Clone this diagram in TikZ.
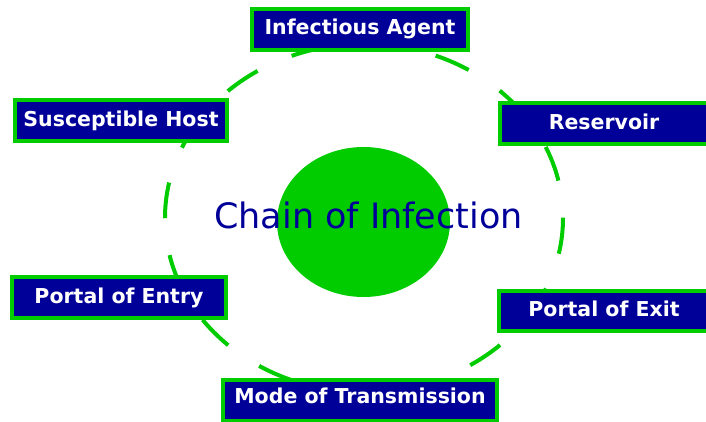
\documentclass[tikz,border=0pt]{standalone}
\usepackage{fontspec}
\setmainfont{DejaVu Sans}
\usetikzlibrary{shapes.geometric}
\definecolor{cgreen}{RGB}{0,204,0}
\definecolor{cnavy}{RGB}{0,0,153}
\begin{document}
\begin{tikzpicture}[x=1pt,y=-1pt,
  stage/.style={draw=cgreen, line width=4pt, fill=cnavy, text=white,
    font=\bfseries\fontsize{20.5}{24}\selectfont, inner sep=0pt, outer sep=0pt,
    text height=15pt, text depth=4pt},
  ring/.style={draw=cgreen, line width=4pt, dash pattern=on 36pt off 37.3pt},
  hubstyle/.style={ellipse, fill=cgreen, inner sep=0pt},
  titlestyle/.style={text=cnavy, font=\fontsize{35}{40}\selectfont, inner sep=0pt}]
\useasboundingbox (0,0) rectangle (706,422);
\fill[white] (0,0) rectangle (706,422);
% dashed ring
\draw[ring] (364,218) ellipse [x radius=199, y radius=174];
% centre
\node[hubstyle, minimum width=173pt, minimum height=150pt] (hub) at (363.5,222) {};
\node[titlestyle, anchor=base] (title) at (368.5,228) {Chain of Infection};
% stages
\node[stage, minimum width=216pt, minimum height=41pt] (agent) at (360,29.5) {Infectious Agent};
\node[stage, minimum width=208pt, minimum height=41pt] (reservoir) at (604,124) {Reservoir};
\node[stage, minimum width=212pt, minimum height=40.5pt] (host) at (121,120.75) {Susceptible Host};
\node[stage, minimum width=214pt, minimum height=41pt] (entry) at (119,297.5) {Portal of Entry};
\node[stage, minimum width=210pt, minimum height=40pt] (exit) at (604,311) {Portal of Exit};
\node[stage, minimum width=274.5pt, minimum height=41pt, text depth=9pt] (mode) at (360,400.5) {Mode of Transmission};
\end{tikzpicture}
\end{document}
